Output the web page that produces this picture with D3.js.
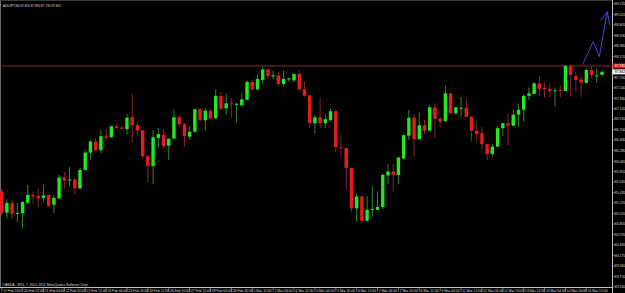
<!DOCTYPE html>
<html lang="en">
<head>
<meta charset="utf-8">
<title>AUDJPY,H4</title>
<script src="https://cdn.jsdelivr.net/npm/d3@7"></script>
<style>
  html, body { margin: 0; padding: 0; background: #000; }
  svg { display: block; font-family: "Liberation Sans", Arial, sans-serif; }
  .lbl { fill: #d8d8d8; font-size: 3.4px; }
</style>
</head>
<body>
<svg width="625" height="293"></svg>
<script>

var symbol = "AUDJPY,H4";

// H4 bars, oldest first
var opens  = [85.46,85.03,85.23,85.01,85.02,85.23,85.39,85.37,85.33,85.39,85.19,85.32,85.74,85.68,85.70,85.52,85.89,86.24,86.46,86.29,
              86.57,86.55,86.77,86.74,86.71,86.95,86.79,86.69,86.17,85.97,86.53,86.60,86.38,86.52,86.95,86.81,86.56,86.66,87.11,86.89,
              87.08,86.93,87.38,87.13,87.23,87.20,87.19,87.30,87.66,87.51,87.70,87.91,87.77,87.79,87.62,87.71,87.69,87.82,87.51,87.39,
              86.83,86.95,86.83,86.89,87.07,86.35,86.33,85.93,85.12,85.36,84.87,85.09,85.09,85.15,85.78,85.86,85.79,86.12,86.58,86.94,
              86.51,86.79,86.68,87.15,86.92,86.87,87.43,87.03,87.12,87.14,86.96,86.68,86.63,86.41,86.21,86.36,86.73,86.83,86.78,87.00,
              87.10,87.38,87.42,87.63,87.54,87.52,87.48,87.50,87.48,87.98,87.78,87.71,87.64,87.90,87.77,87.80];
var highs  = [85.51,85.30,85.29,85.22,85.26,85.59,85.46,85.52,85.59,85.40,85.39,85.79,85.85,85.95,85.73,85.93,86.29,86.49,86.53,86.69,
              86.71,86.78,86.80,86.77,87.02,87.43,86.86,86.70,86.18,86.69,86.73,86.71,86.52,87.11,87.00,86.83,86.76,87.12,87.13,87.13,
              87.11,87.51,87.46,87.43,87.33,87.24,87.43,87.69,87.70,87.80,87.97,87.93,87.89,87.87,87.89,87.75,87.84,87.90,87.67,87.40,
              87.00,87.34,87.00,87.13,87.09,86.59,86.35,85.94,85.42,85.39,85.36,85.56,85.46,85.82,86.01,86.01,86.16,86.61,87.10,87.01,
              87.04,86.90,87.20,87.23,86.96,87.58,87.44,87.16,87.36,87.32,86.97,86.81,86.75,86.43,86.41,86.77,86.84,87.02,87.11,87.23,
              87.41,87.55,87.65,87.78,87.65,87.62,87.55,87.58,88.00,88.02,87.86,87.78,87.93,87.98,87.93,87.89];
var lows   = [84.97,84.92,84.90,84.85,84.72,85.22,85.22,85.14,85.25,85.15,85.03,85.31,85.52,85.56,85.39,85.50,85.88,86.09,86.26,86.23,
              86.46,86.53,86.72,86.70,86.61,86.44,86.59,86.13,85.64,85.61,86.33,86.33,86.09,86.51,86.76,86.35,86.49,86.64,86.86,86.68,
              86.91,86.91,87.09,87.00,86.96,86.84,87.16,87.29,87.48,87.49,87.62,87.73,87.71,87.57,87.57,87.66,87.66,87.47,87.36,86.73,
              86.63,86.73,86.73,86.87,86.26,86.16,85.50,85.05,84.85,84.82,84.85,84.95,85.08,85.10,85.61,85.46,85.61,86.11,86.49,86.17,
              86.49,86.61,86.67,86.53,86.76,86.86,87.00,87.00,86.96,86.95,86.46,86.46,86.31,86.09,86.16,86.35,86.57,86.39,86.76,86.76,
              86.86,87.29,87.41,87.38,87.34,87.34,87.17,87.35,87.47,87.36,87.45,87.36,87.63,87.74,87.64,87.79];
var closes = [85.02,85.23,85.01,85.03,85.25,85.39,85.36,85.32,85.38,85.17,85.33,85.74,85.68,85.70,85.52,85.89,86.24,86.46,86.29,86.57,
              86.54,86.77,86.74,86.72,86.94,86.79,86.68,86.17,85.97,86.55,86.61,86.37,86.52,86.95,86.81,86.57,86.66,87.11,86.90,87.08,
              86.93,87.38,87.12,87.23,87.21,87.22,87.31,87.66,87.51,87.72,87.91,87.78,87.79,87.62,87.72,87.73,87.82,87.51,87.38,86.83,
              86.95,86.83,86.91,87.07,86.35,86.33,85.93,85.12,85.36,84.87,85.09,85.11,85.15,85.79,85.86,85.79,86.14,86.59,86.94,86.51,
              86.79,86.68,87.15,86.92,86.86,87.43,87.03,87.15,87.14,86.96,86.68,86.61,86.41,86.21,86.36,86.73,86.83,86.78,87.00,87.10,
              87.38,87.43,87.63,87.52,87.51,87.48,87.49,87.48,87.98,87.80,87.70,87.64,87.90,87.80,87.79,87.862];

// price scale labels (right side)
var yTicks = [89.225,89.015,88.805,88.590,88.380,88.170,87.960,87.750,87.540,87.330,87.120,86.910,86.700,86.490,
              86.280,86.065,85.855,85.645,85.435,85.225,85.015,84.805,84.595,84.385,84.175,83.960,83.750,83.540];

// time labels, one every 4 bars
var xLabels = ["19 Feb 2012","20 Feb 12:00","21 Feb 04:00","21 Feb 20:00","22 Feb 12:00","23 Feb 04:00","23 Feb 20:00",
               "24 Feb 12:00","26 Feb 20:00","27 Feb 12:00","28 Feb 04:00","28 Feb 20:00","1 Mar 12:00","2 Mar 04:00",
               "4 Mar 12:00","5 Mar 04:00","5 Mar 20:00","6 Mar 12:00","7 Mar 04:00","7 Mar 20:00","8 Mar 12:00",
               "9 Mar 04:00","11 Mar 12:00","12 Mar 04:00","12 Mar 20:00","13 Mar 12:00","14 Mar 04:00","14 Mar 20:00",
               "15 Mar 12:00"];
var labelStep = 4;

// horizontal line and the hand drawn arrow
var hLinePrice = 87.980;
var arrowBars   = [111.3, 113.3, 114.5, 116.0];
var arrowPrices = [88.01, 88.47, 88.17, 89.07];
var headBars    = [114.7, 116.0, 116.5];
var headPrices  = [88.89, 89.07, 88.80];

var svg = d3.select("svg"),
    width = +svg.attr("width"),
    height = +svg.attr("height"),
    axisX = 612.5,
    axisY = 287.5;

svg.append("rect").attr("width", width).attr("height", height).attr("fill", "#000");

var x = d3.scaleLinear().domain([0, opens.length - 1]).range([1.7, 602]);
var y = d3.scaleLinear().domain([83.540, 89.225]).range([287, 4]);

var bars = opens.map(function(o, i) {
  return {i: i, o: o, h: highs[i], l: lows[i], c: closes[i], up: closes[i] >= o};
});

// frame and axes
svg.append("line").attr("x1", 0.5).attr("x2", 0.5).attr("y1", 0).attr("y2", axisY)
    .attr("stroke", "#6a6a6a");
svg.append("line").attr("x1", 0).attr("x2", axisX).attr("y1", 0.5).attr("y2", 0.5)
    .attr("stroke", "#3a3a3a");
svg.append("line").attr("x1", axisX).attr("x2", axisX).attr("y1", 0).attr("y2", height)
    .attr("stroke", "#bdbdbd");
svg.append("line").attr("x1", 0).attr("x2", axisX).attr("y1", axisY).attr("y2", axisY)
    .attr("stroke", "#bdbdbd");

// horizontal level
svg.append("line")
    .attr("x1", 0).attr("x2", axisX)
    .attr("y1", y(hLinePrice)).attr("y2", y(hLinePrice))
    .attr("stroke", "#7c2b2b").attr("stroke-width", 1);

// candles
var g = svg.append("g");
g.selectAll(".wick")
  .data(bars)
  .enter().append("line")
    .attr("class", "wick")
    .attr("x1", function(d) { return x(d.i); })
    .attr("x2", function(d) { return x(d.i); })
    .attr("y1", function(d) { return y(d.h); })
    .attr("y2", function(d) { return y(d.l); })
    .attr("stroke", function(d) { return d.up ? "#2f8a2f" : "#8c2424"; })
    .attr("stroke-width", 1);

g.selectAll(".body")
  .data(bars)
  .enter().append("rect")
    .attr("class", "body")
    .attr("x", function(d) { return x(d.i) - 1.7; })
    .attr("width", 3.4)
    .attr("y", function(d) { return y(Math.max(d.o, d.c)); })
    .attr("height", function(d) { return Math.max(1, Math.abs(y(d.o) - y(d.c))); })
    .attr("fill", function(d) { return d.up ? "#22e822" : "#e81a1a"; });

// arrow
var line = d3.line()
    .x(function(d) { return x(d[0]); })
    .y(function(d) { return y(d[1]); });

svg.append("path")
    .attr("d", line(arrowBars.map(function(b, i) { return [b, arrowPrices[i]]; })))
    .attr("fill", "none").attr("stroke", "#4343dc").attr("stroke-width", 1);
svg.append("path")
    .attr("d", line(headBars.map(function(b, i) { return [b, headPrices[i]]; })))
    .attr("fill", "none").attr("stroke", "#4343dc").attr("stroke-width", 1);

// price axis
svg.selectAll(".ytick")
  .data(yTicks)
  .enter().append("line")
    .attr("x1", axisX).attr("x2", axisX + 2)
    .attr("y1", function(d) { return y(d); })
    .attr("y2", function(d) { return y(d); })
    .attr("stroke", "#bdbdbd").attr("stroke-width", 0.6);

svg.selectAll(".ylabel")
  .data(yTicks)
  .enter().append("text")
    .attr("class", "lbl")
    .attr("x", axisX + 2.3)
    .attr("y", function(d) { return y(d) + 1.2; })
    .text(function(d) { return d.toFixed(3); });

// level and bid boxes
var last = bars[bars.length - 1];
svg.append("rect")
    .attr("x", axisX).attr("y", y(hLinePrice) - 2.5)
    .attr("width", width - axisX).attr("height", 5)
    .attr("fill", "#c41c1c");
svg.append("text").attr("class", "lbl")
    .attr("x", axisX + 2.3).attr("y", y(hLinePrice) + 1.2)
    .style("fill", "#fff")
    .text(hLinePrice.toFixed(3));
svg.append("rect")
    .attr("x", axisX).attr("y", y(last.c) - 2.5)
    .attr("width", width - axisX).attr("height", 5)
    .attr("fill", "#f2f2f2");
svg.append("text").attr("class", "lbl")
    .attr("x", axisX + 2.3).attr("y", y(last.c) + 1.2)
    .style("fill", "#000")
    .text(last.c.toFixed(3));

// time axis
var xTicks = xLabels.map(function(t, k) { return {i: k * labelStep, t: t}; });
svg.selectAll(".xtick")
  .data(xTicks)
  .enter().append("line")
    .attr("x1", function(d) { return x(d.i); })
    .attr("x2", function(d) { return x(d.i); })
    .attr("y1", axisY).attr("y2", axisY + 4)
    .attr("stroke", "#bdbdbd").attr("stroke-width", 0.6);

svg.selectAll(".xlabel")
  .data(xTicks)
  .enter().append("text")
    .attr("class", "lbl")
    .attr("x", function(d) { return x(d.i) + 1.3; })
    .attr("y", axisY + 4)
    .text(function(d) { return d.t; });

// header and footer
svg.append("text").attr("class", "lbl")
    .attr("x", 3).attr("y", 7)
    .style("font-size", "3.1px")
    .text(symbol + " " + [last.o, last.h, last.l, last.c].map(function(v) { return v.toFixed(3); }).join(" "));

svg.append("text").attr("class", "lbl")
    .attr("x", 2.5).attr("y", 285.5)
    .text("OANDA - MT4, \u00a9 2001-2012 MetaQuotes Software Corp.");

</script>
</body>
</html>
